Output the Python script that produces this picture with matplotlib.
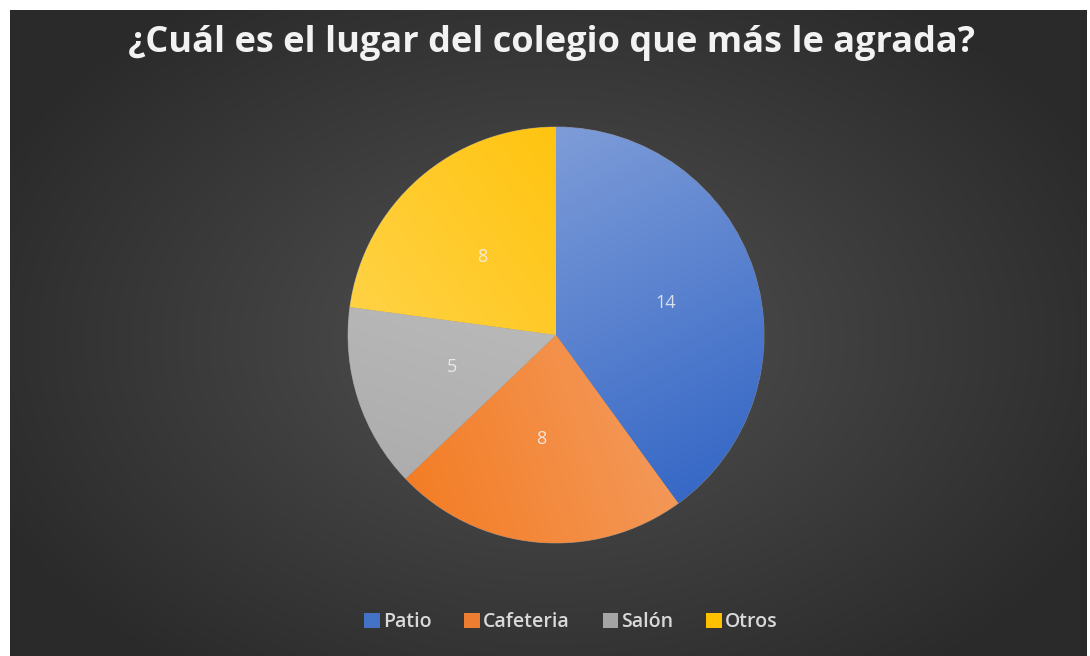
import matplotlib
matplotlib.use('Agg')
import matplotlib.pyplot as plt
from matplotlib.patches import Patch
from matplotlib.colors import to_rgb
import numpy as np

title = '¿Cuál es el lugar del colegio que más le agrada?'
categories = ['Patio', 'Cafeteria', 'Salón', 'Otros']
values = [14, 8, 5, 8]
base_colors = ['#4472c4', '#ed7d31', '#a5a5a5', '#ffc000']

# per-slice gradient: (light colour, dark colour, direction of the dark end)
gradients = [
    ('#829fd9', '#3668c6', (0.45, -0.9)),
    ('#f3a877', '#f47a1f', (-0.9, -0.3)),
    ('#c6c6c6', '#ababab', (-0.3, -0.9)),
    ('#ffd550', '#ffc000', (0.8, 0.6)),
]

W, H = 1090, 656
fig = plt.figure(figsize=(W / 100, H / 100), dpi=100)
fig.patch.set_facecolor('white')

# dark radial background
bg = fig.add_axes([10 / W, 0, (1087 - 10) / W, (H - 10) / H])
bg.set_axis_off()
yy, xx = np.mgrid[0:646, 0:1077]
r = np.sqrt(((xx - 540) / 620.0) ** 2 + ((yy - 330) / 420.0) ** 2)
r = np.clip(r, 0, 1)[..., None]
c_in = np.array(to_rgb('#525252'))
c_out = np.array(to_rgb('#2a2a2a'))
img = c_in * (1 - r) + c_out * r
bg.imshow(img, aspect='auto', extent=[0, 1, 0, 1])
bg.set_xlim(0, 1)
bg.set_ylim(0, 1)

# pie axes, centre (556, 335) radius 208 px
cx, cy, rad = 556, 335, 208
ax = fig.add_axes([(cx - rad) / W, (H - cy - rad) / H, 2 * rad / W, 2 * rad / H])
wedges, texts = ax.pie(values, startangle=90, counterclock=False,
                       colors=base_colors, labels=[str(v) for v in values],
                       labeldistance=0.5, radius=1,
                       wedgeprops=dict(linewidth=0.6, edgecolor='#8a8a8a'),
                       textprops=dict(color='#f2f2f2', fontsize=13,
                                      family='Open Sans'))
ax.set_xlim(-1, 1)
ax.set_ylim(-1, 1)
ax.set_aspect('auto')

gy, gx = np.mgrid[1:-1:300j, -1:1:300j]
for w, (light, dark, (dx, dy)) in zip(wedges, gradients):
    t = np.clip((gx * dx + gy * dy + 1) / 2, 0, 1)[..., None]
    g = np.array(to_rgb(light)) * (1 - t) + np.array(to_rgb(dark)) * t
    im = ax.imshow(g, extent=[-1, 1, -1, 1], zorder=w.get_zorder() + 0.1,
                   aspect='auto')
    im.set_clip_path(w)
for t in texts:
    t.set_zorder(5)
    t.set_alpha(0.85)

fig.text(552 / W, 1 - 43 / H, title, ha='center', va='center',
         fontsize=26, fontweight='bold', color='#f2f2f2', family='Open Sans')

handles = [Patch(facecolor=c, edgecolor='none') for c in base_colors]
fig.legend(handles, categories, loc='center', bbox_to_anchor=(571 / W, 1 - 622 / H),
           ncol=4, frameon=False, handlelength=0.8, handleheight=0.8,
           handletextpad=0.15, columnspacing=1.7,
           prop=dict(family='Open Sans', size=14, weight='semibold'),
           labelcolor='#d9d9d9')

fig.savefig('out.png', dpi=100)
